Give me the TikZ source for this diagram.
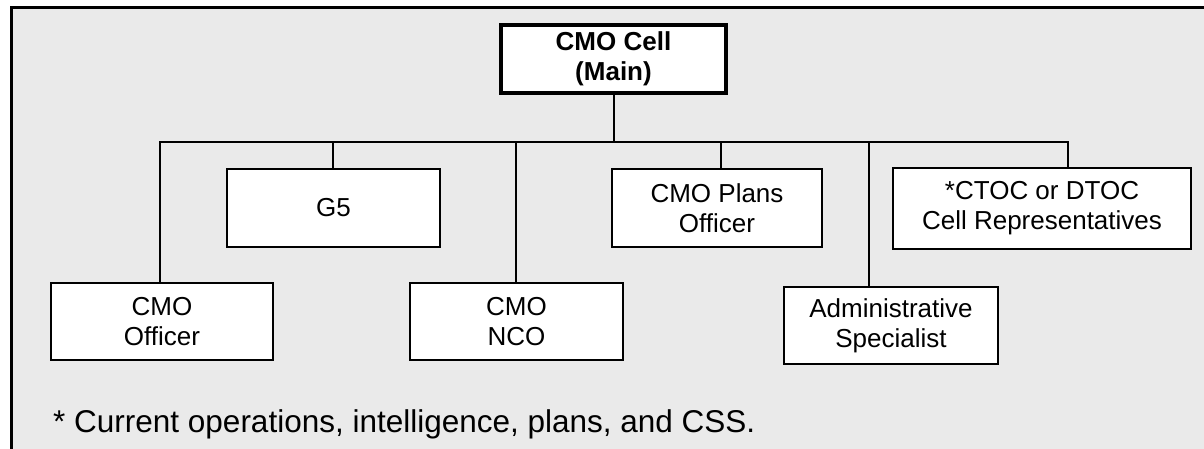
\documentclass[tikz,border=0pt]{standalone}
\usepackage{fontspec}
\setmainfont{Liberation Sans}
\begin{document}
\begin{tikzpicture}[x=1pt,y=-1pt,
  panel/.style={fill=panelgray},
  unit/.style={draw=black, line width=2pt, fill=white, align=center,
    inner sep=0pt, font=\fontsize{26}{30}\selectfont},
  headunit/.style={unit, line width=3.5pt, font=\fontsize{26}{30}\selectfont\bfseries},
  link/.style={draw=black, line width=2pt}]
\definecolor{panelgray}{RGB}{234,234,234}
\useasboundingbox (0,0) rectangle (1204,449);

% shaded panel with its left and top rules
\fill[panel] (11,8) rectangle (1204,449);
\draw[line width=3pt] (11,449) -- (11,8) -- (1204,8);

% head of the cell
\node[headunit, minimum width=225pt, minimum height=68pt] (main) at (613.5,59) {CMO Cell\\(Main)};

% subordinate elements
\node[unit, minimum width=222pt, minimum height=77pt] (off)   at (162,321.5)  {CMO\\Officer};
\node[unit, minimum width=213pt, minimum height=78pt] (g5)    at (333.5,208)  {G5};
\node[unit, minimum width=213pt, minimum height=77pt] (nco)   at (516.5,321.5){CMO\\NCO};
\node[unit, minimum width=210pt, minimum height=78pt] (plans) at (717,208)    {CMO Plans\\Officer};
\node[unit, minimum width=214pt, minimum height=77pt] (admin) at (891,325.5)  {Administrative\\Specialist};
\node[unit, minimum width=298pt, minimum height=81pt] (ctoc)  at (1042,208.5) {*CTOC or DTOC\\Cell Representatives};

% distribution bus
\coordinate (busL)   at (160,142);
\coordinate (busR)   at (1068,142);
\coordinate (tapG5)  at (333,142);
\coordinate (tapNCO) at (516,142);
\coordinate (tapPl)  at (721,142);
\coordinate (tapAd)  at (869,142);

\draw[link] (main.south) -- (main.south |- busL);
\draw[link] (busL |- off.north) -- (busL) -- (busR) -- (busR |- ctoc.north);
\draw[link] (tapG5) -- (tapG5 |- g5.north);
\draw[link] (tapNCO) -- (tapNCO |- nco.north);
\draw[link] (tapPl) -- (tapPl |- plans.north);
\draw[link] (tapAd) -- (tapAd |- admin.north);

% footnote
\node[anchor=base west, inner sep=0pt, font=\fontsize{31.5}{36}\selectfont] (note) at (53,432)
  {* Current operations, intelligence, plans, and CSS.};
\end{tikzpicture}
\end{document}
